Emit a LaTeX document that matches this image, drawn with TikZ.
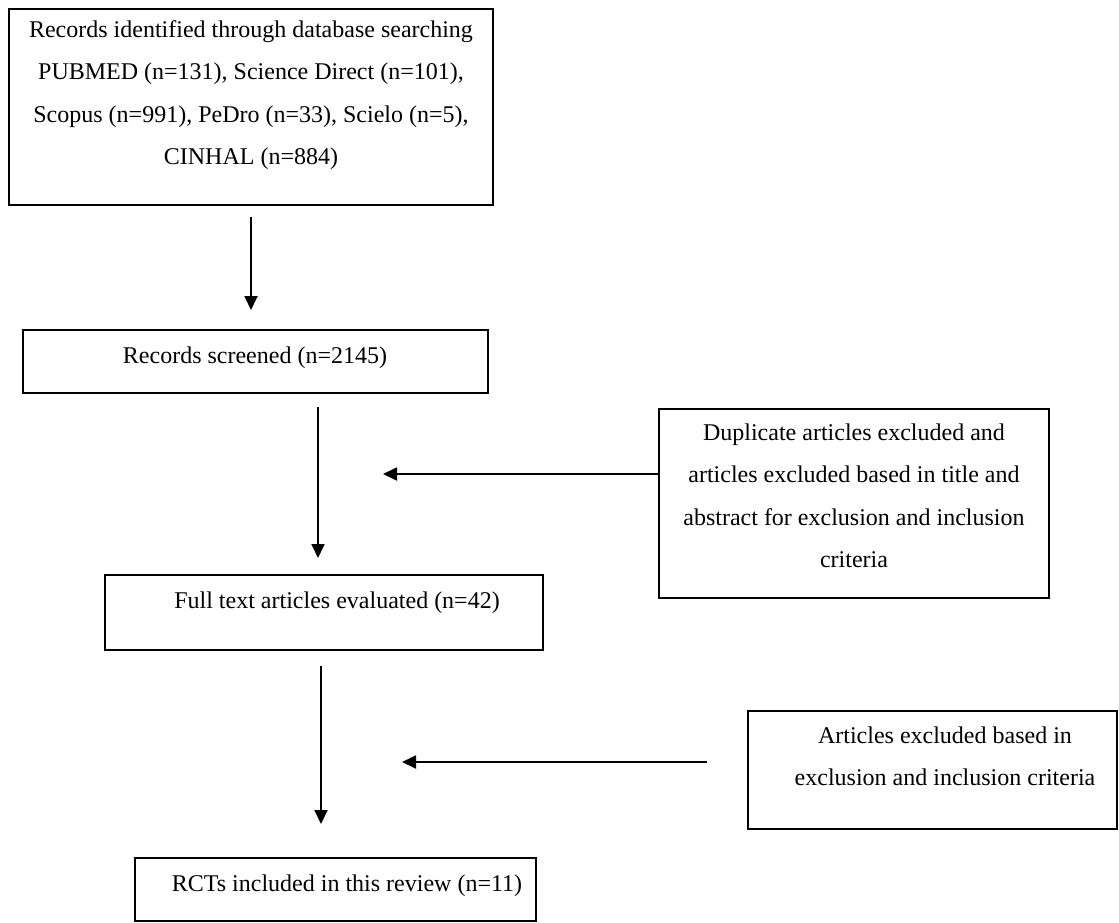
\documentclass[tikz,border=0pt]{standalone}
\usepackage{fontspec}
\setmainfont{Liberation Serif}
\usetikzlibrary{arrows.meta}
\begin{document}
\begin{tikzpicture}[x=1pt,y=-1pt,
  box/.style={draw, line width=1.6pt, rectangle, anchor=north west, inner sep=0pt, outer sep=0pt},
  txt/.style={font=\fontsize{24}{42.5}\selectfont, align=center, inner sep=0pt},
  arr/.style={line width=1.8pt, -{Triangle[length=14pt,width=13pt]}}]
\useasboundingbox (0,0) rectangle (1119,923);
% boxes
\node[box, minimum width=484pt, minimum height=196pt] (b1) at (9,9) {};
\node[box, minimum width=465pt, minimum height=63pt] (b2) at (23,330) {};
\node[box, minimum width=438pt, minimum height=75pt] (b3) at (105,575) {};
\node[box, minimum width=390pt, minimum height=189pt] (bA) at (659,409) {};
\node[box, minimum width=369pt, minimum height=118pt] (bB) at (748,711) {};
\node[box, minimum width=401pt, minimum height=63pt] (bC) at (135,858) {};
% texts
\node[txt, anchor=north] (t1) at (251,20) {\rule{0pt}{17pt}Records identified through database searching\\PUBMED (n=131), Science Direct (n=101),\\Scopus (n=991), PeDro (n=33), Scielo (n=5),\\CINHAL (n=884)};
\node[txt, anchor=base] (t2) at (255,363) {Records screened (n=2145)};
\node[txt, anchor=base] (t3) at (337,608) {Full text articles evaluated (n=42)};
\node[txt, anchor=north] (tA) at (854,423) {\rule{0pt}{17pt}Duplicate articles excluded and\\articles excluded based in title and\\abstract for exclusion and inclusion\\criteria};
\node[txt, anchor=north] (tB) at (945,726) {\rule{0pt}{17pt}Articles excluded based in\\exclusion and inclusion criteria};
\node[txt, anchor=base] (tC) at (347,891) {RCTs included in this review (n=11)};
% arrow positions
\coordinate (x1) at (251,0);
\coordinate (x2) at (318,0);
\coordinate (x3) at (321,0);
\coordinate (h1y) at (0,474);
\coordinate (h1e) at (383,474);
\coordinate (h2s) at (707,762);
\coordinate (h2e) at (402,762);
% connectors
\draw[arr, shorten <=12pt, shorten >=20pt] (b1.south -| x1) -- (b2.north -| x1);
\draw[arr, shorten <=14pt, shorten >=17pt] (b2.south -| x2) -- (b3.north -| x2);
\draw[arr, shorten <=16pt, shorten >=34pt] (b3.south -| x3) -- (bC.north -| x3);
\draw[arr] (bA.west |- h1y) -- (h1e);
\draw[arr] (h2s) -- (h2e);
\end{tikzpicture}
\end{document}
